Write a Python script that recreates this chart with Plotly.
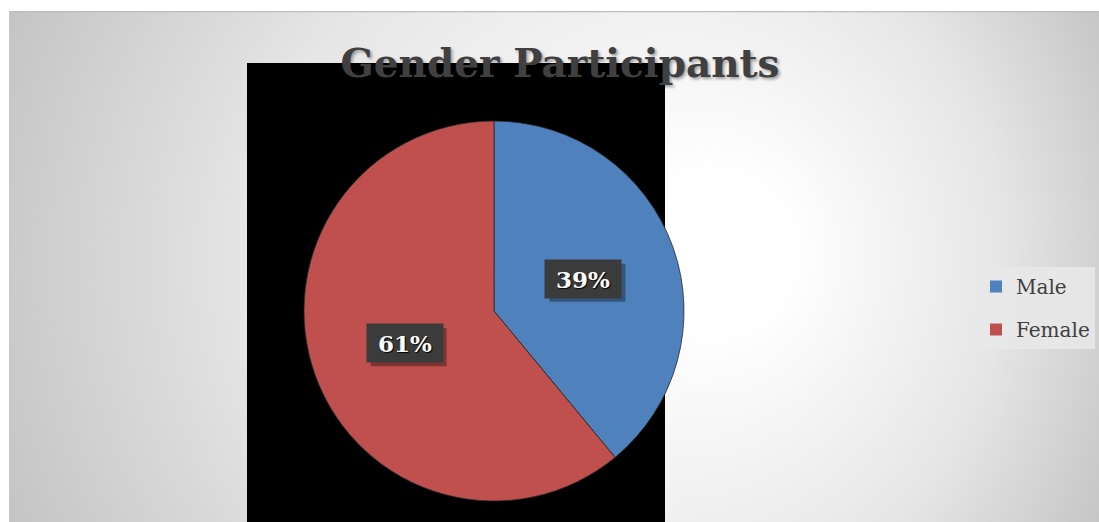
import base64
import math
import plotly.graph_objects as go

# ---- data ----
labels = ["Male", "Female"]
values = [39, 61]
colors = ["#4F81BD", "#C0504D"]
title_text = "Gender Participants"

W, H = 1099, 522

# ---- background (radial gradient chart area) as SVG image ----
svg = '''<svg xmlns="http://www.w3.org/2000/svg" width="1090" height="511" viewBox="0 0 1090 511">
<defs><radialGradient id="g" cx="545" cy="255" r="620" fx="730" fy="240" gradientUnits="userSpaceOnUse">
<stop offset="0" stop-color="#ffffff"/><stop offset="0.12" stop-color="#ffffff"/>
<stop offset="0.6" stop-color="#e6e6e6"/><stop offset="1" stop-color="#c2c2c2"/></radialGradient></defs>
<rect x="0" y="0" width="1090" height="511" fill="url(#g)"/>
<line x1="0" y1="0.5" x2="1090" y2="0.5" stroke="#bdbdbd" stroke-width="1.5"/>
<line x1="0.5" y1="0" x2="0.5" y2="511" stroke="#c8c8c8" stroke-width="1.5"/>
</svg>'''
src = "data:image/svg+xml;base64," + base64.b64encode(svg.encode()).decode()

# pie geometry (pixels)
cx, cy, R = 494, 311, 190

fig = go.Figure()
fig.add_trace(go.Pie(
    labels=labels, values=values, sort=False, direction="clockwise", rotation=0,
    marker=dict(colors=colors, line=dict(color="#2a2a2a", width=0.8)),
    textinfo="none", hoverinfo="label+percent", showlegend=False,
    domain=dict(x=[(cx - R) / W, (cx + R) / W], y=[1 - (cy + R) / H, 1 - (cy - R) / H]),
))

# legend via dummy traces
for lab, col in zip(labels, colors):
    fig.add_trace(go.Scatter(x=[None], y=[None], mode="markers", name=lab,
                             legendgroup=lab,
                             marker=dict(symbol="square", size=12, color=col)))

# data labels in boxes, positioned from values
total = sum(values)
annotations = []
shapes = [dict(type="rect", xref="paper", yref="paper", x0=247 / W, x1=665 / W,
               y0=0, y1=1 - 63 / H, fillcolor="black", line=dict(width=0), layer="below")]
bw, bh = 76, 38
cum = 0
for v in values:
    mid = (cum + v / 2) / total * 2 * math.pi
    cum += v
    px = cx + 0.5 * R * math.sin(mid)
    py = cy - 0.5 * R * math.cos(mid)
    # shadow box behind label
    shapes.append(dict(type="rect", xref="paper", yref="paper", layer="above",
                       x0=(px - bw / 2 + 4) / W, x1=(px + bw / 2 + 4) / W,
                       y0=1 - (py + bh / 2 + 4) / H, y1=1 - (py - bh / 2 + 4) / H,
                       fillcolor="rgba(0,0,0,0.35)", line=dict(width=0)))
    annotations.append(dict(x=px / W, y=1 - py / H, xref="paper", yref="paper",
                            text=f"<b>{round(v / total * 100)}%</b>", showarrow=False,
                            width=bw - 12, height=bh - 12, borderpad=6, bgcolor="#3b3b3b",
                            font=dict(family="DejaVu Serif", size=23, color="#ffffff",
                                      shadow="1px 1px 1px #000")))

fig.update_layout(
    width=W, height=H,
    margin=dict(l=0, r=0, t=0, b=0),
    paper_bgcolor="white", plot_bgcolor="rgba(0,0,0,0)",
    xaxis=dict(visible=False), yaxis=dict(visible=False),
    images=[dict(source=src, xref="paper", yref="paper", x=9 / W, y=1 - 11 / H,
                 sizex=1090 / W, sizey=511 / H, xanchor="left", yanchor="top",
                 sizing="stretch", layer="below")],
    shapes=shapes,
    title=dict(text=f"<b>{title_text}</b>", x=560 / W, xanchor="center", y=1 - 63 / H, yanchor="middle",
               font=dict(family="DejaVu Serif", size=39, color="#404040",
                         shadow="2px 2px 3px rgba(0,0,0,0.35)")),
    legend=dict(x=976 / W, y=1 - 267 / H, xanchor="left", yanchor="top",
                bgcolor="rgba(232,232,232,0.9)", tracegroupgap=14,
                font=dict(family="DejaVu Serif", size=20, color="#404040")),
    annotations=annotations,
)

fig.write_html("out.html", config={"displayModeBar": False},
               post_script="document.body.style.margin='0';")
